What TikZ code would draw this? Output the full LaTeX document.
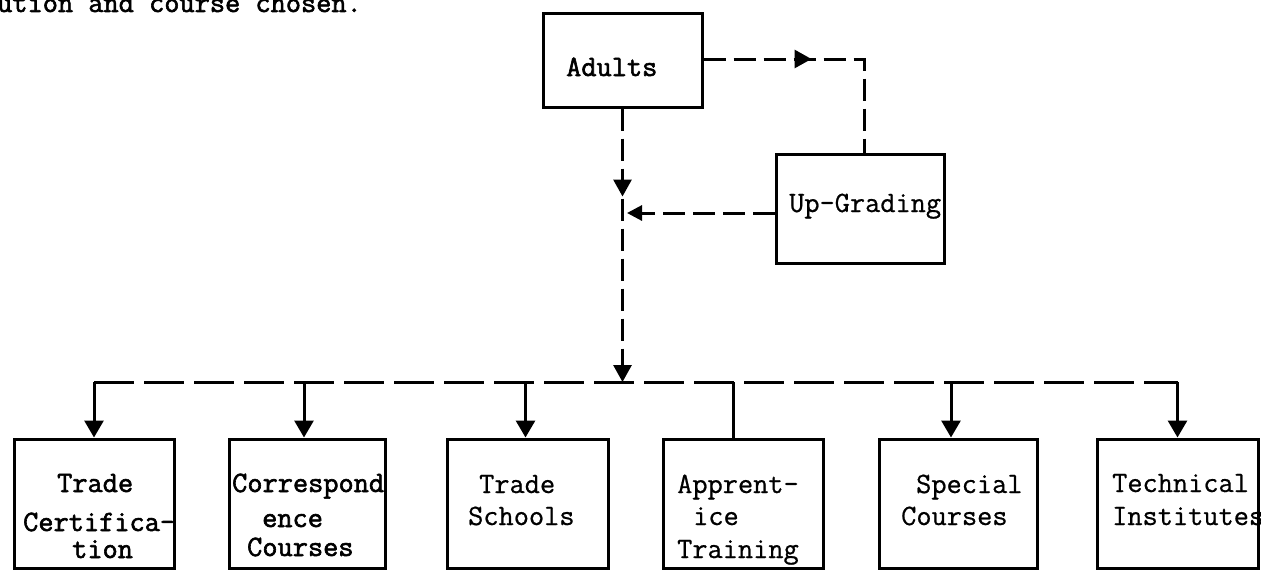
\documentclass[tikz,border=0pt]{standalone}
\usepackage{fontspec}
\newfontfamily\tw{Latin Modern Mono}[FakeBold=0.7]
\newfontfamily\twb{Latin Modern Mono}[FakeBold=2]
\usetikzlibrary{arrows.meta,decorations.markings}
\begin{document}
\begin{tikzpicture}[x=1pt,y=-1pt,
  box/.style={draw, line width=3pt, rectangle, inner sep=0pt},
  txt/.style={anchor=base west, inner sep=0pt, font=\fontsize{29.5}{33}\selectfont\tw},
  txtb/.style={anchor=base west, inner sep=0pt, font=\fontsize{29.5}{33}\selectfont\twb},
  dsh/.style={line width=3pt, dash pattern=on 22pt off 8pt},
  busdash/.style={line width=3pt, dash pattern=on 40pt off 10pt},
  drop/.style={line width=3pt, -{Triangle[width=19pt,length=17pt]}},
  midarrow/.style={postaction={decorate, decoration={markings, mark=at position #1 with {\arrow{Triangle[width=18pt,length=17pt]}}}}}
]
\useasboundingbox (0,0) rectangle (1261,570);

% top text
\node[txtb] (toptext) at (-3,12) {ution and course chosen.};

% upper boxes
\node[box, minimum width=159pt, minimum height=94pt] (adults) at (622.5,60) {};
\node[txtb] (adultsT) at (566,76) {Adults};
\node[box, minimum width=168pt, minimum height=109pt] (up) at (860,208.5) {};
\node[txt] (upT) at (789,212) {Up-Grading};

% bottom boxes
\node[box, minimum width=160pt, minimum height=129pt] (tc) at (94,503.5) {};
\node[box, minimum width=156pt, minimum height=129pt] (cc) at (307,503.5) {};
\node[box, minimum width=161pt, minimum height=129pt] (ts) at (527.5,503.5) {};
\node[box, minimum width=160pt, minimum height=129pt] (at) at (743,503.5) {};
\node[box, minimum width=158pt, minimum height=129pt] (sc) at (958,503.5) {};
\node[box, minimum width=161pt, minimum height=129pt] (ti) at (1177.5,503.5) {};

\node[txtb] (tc1) at (57,492) {Trade};
\node[txtb] (tc2) at (23,531) {Certifica-};
\node[txtb] (tc3) at (72,558) {tion};
\node[txtb] (cc1) at (232,492) {Correspond};
\node[txtb] (cc2) at (262,527) {ence};
\node[txtb] (cc3) at (247,556) {Courses};
\node[txt] (ts1) at (479,493) {Trade};
\node[txt] (ts2) at (468,525) {Schools};
\node[txt] (at1) at (677,493) {Apprent-};
\node[txt] (at2) at (693,525) {ice};
\node[txt] (at3) at (677,558) {Training};
\node[txt] (sc1) at (916,493) {Special};
\node[txt] (sc2) at (901,525) {Courses};
\node[txt] (ti1) at (1112,492) {Technical};
\node[txt] (ti2) at (1112,525) {Institutes};

% coordinates
\coordinate (ur) at (864,59);
\coordinate (bus) at (622.5,382);
\coordinate (mid) at (627,213);

% Adults -> Up-Grading
\draw[dsh, midarrow=108pt] (adults.east |- ur) -- (ur) -- (up.north -| ur);
% Adults -> bus
\draw[dsh, midarrow=88pt, -{Triangle[width=18pt,length=17pt]}] (adults.south) -- (bus);
% Up-Grading -> vertical line
\draw[dsh, -{Triangle[width=15pt,length=15pt]}] (up.west |- mid) -- (mid);

% bus
\draw[busdash] (tc.north |- bus) -- (ti.north |- bus);
\draw[drop] (tc.north |- bus) -- (tc.north);
\draw[drop] ([xshift=-3pt]cc.north |- bus) -- ([xshift=-3pt]cc.north);
\draw[drop] ([xshift=-2pt]ts.north |- bus) -- ([xshift=-2pt]ts.north);
\draw[line width=3pt] ([xshift=-10pt]at.north |- bus) -- ([xshift=-10pt]at.north);
\draw[drop] ([xshift=-7pt]sc.north |- bus) -- ([xshift=-7pt]sc.north);
\draw[drop] (ti.north |- bus) -- (ti.north);
\end{tikzpicture}
\end{document}
